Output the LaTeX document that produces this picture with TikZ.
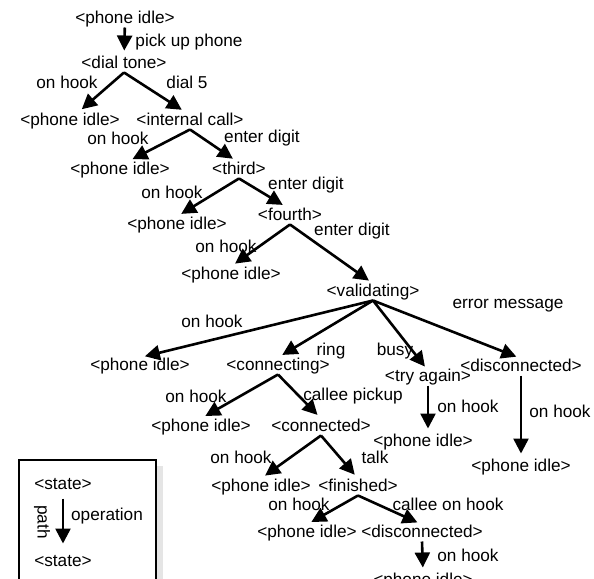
\documentclass[tikz,border=0pt]{standalone}
\usepackage{fontspec}
\setmainfont{Liberation Sans}
\usetikzlibrary{arrows.meta}

\begin{document}
\begin{tikzpicture}[
  x=0.5pt, y=-0.5pt,
  state/.style={inner sep=0pt, text height=6.3pt, text depth=1.8pt,
                font=\fontsize{8.6}{10}\selectfont},
  lbl/.style={inner sep=0pt, font=\fontsize{8.6}{10}\selectfont},
  arr/.style={-{Triangle[length=7.5pt, width=7.5pt]}, line width=1.3pt,
              shorten >=2.5pt}
]
\useasboundingbox (0,0) rectangle (594,578);

% legend box
\fill[black!10] (156,466) rectangle (163,600);
\draw[line width=0.6pt, fill=white] (19,460) rectangle (156,600);

% states
\node[state] (idleA)    at (125,19)  {<phone idle>};
\node[state] (dial)     at (124,64)  {<dial tone>};
\node[state] (idleB)    at (70,121)  {<phone idle>};
\node[state] (internal) at (190,121) {<internal call>};
\node[state] (idleC)    at (120,170) {<phone idle>};
\node[state] (third)    at (239,170) {<third>};
\node[state] (idleD)    at (177,225) {<phone idle>};
\node[state] (fourth)   at (290,216) {<fourth>};
\node[state] (idleE)    at (231,275) {<phone idle>};
\node[state] (valid)    at (373,292) {<validating>};
\node[state] (idleF)    at (140,366) {<phone idle>};
\node[state] (conn)     at (278,366) {<connecting>};
\node[state] (tryag)    at (428,377) {<try again>};
\node[state] (disc)     at (521,367) {<disconnected>};
\node[state] (idleG)    at (423,442) {<phone idle>};
\node[state] (idleH)    at (521,467) {<phone idle>};
\node[state] (idleI)    at (201,427) {<phone idle>};
\node[state] (connd)    at (321,427) {<connected>};
\node[state] (idleJ)    at (261,487) {<phone idle>};
\node[state] (fin)      at (358,487) {<finished>};
\node[state] (idleK)    at (307,533) {<phone idle>};
\node[state] (discB)    at (422,533) {<disconnected>};
\node[state] (idleL)    at (423,581) {<phone idle>};

% legend
\node[state] (legA) at (63,485) {<state>};
\node[state] (legB) at (63,562) {<state>};
\node[lbl, rotate=-90] (legPath) at (42,522) {path};
\node[lbl] (legOp) at (107,516) {operation};

% transitions
\draw[arr] (idleA) -- (dial);
\draw[arr] (dial.south) -- ([xshift=4pt]idleB.north);
\draw[arr] (dial.south) -- ([xshift=-2pt]internal.north);
\draw[arr] (internal.south) -- ([xshift=4pt]idleC.north);
\draw[arr] (internal.south) -- ([xshift=-1pt]third.north);
\draw[arr] (third.south) -- (idleD.north);
\draw[arr] (third.south) -- ([xshift=-1.5pt]fourth.north);
\draw[arr] (fourth.south) -- (idleE.north);
\draw[arr] (fourth.south) -- (valid.north);
\draw[arr] (valid.south) -- (idleF.north);
\draw[arr] (valid.south) -- (conn.north);
\draw[arr] (valid.south) -- ([yshift=-1pt]tryag.north);
\draw[arr] (valid.south) -- (disc.north);
\draw[arr] (tryag.south) -- ([xshift=2.5pt]idleG.north);
\draw[arr] (disc.south) -- (idleH.north);
\draw[arr] (conn.south) -- (idleI.north);
\draw[arr] (conn.south) -- (connd.north);
\draw[arr] (connd.south) -- (idleJ.north);
\draw[arr] (connd.south) -- (fin.north);
\draw[arr] (fin.south) -- (idleK.north);
\draw[arr] (fin.south) -- (discB.north);
\draw[arr] (discB.south) -- (idleL.north);
\draw[arr, shorten <=2.5pt, shorten >=5pt] (legA) -- (legB);

% operation labels
\node[lbl] (lPick)  at (189,42)  {pick up phone};
\node[lbl] (lHk1)   at (67,82)   {on hook};
\node[lbl] (lDial)  at (187,82)  {dial 5};
\node[lbl] (lHk2)   at (118,138) {on hook};
\node[lbl] (lDig1)  at (262,138) {enter digit};
\node[lbl] (lHk3)   at (172,192) {on hook};
\node[lbl] (lDig2)  at (306,185) {enter digit};
\node[lbl] (lHk4)   at (226,246) {on hook};
\node[lbl] (lDig3)  at (352,231) {enter digit};
\node[lbl] (lHk5)   at (212,321) {on hook};
\node[lbl] (lRing)  at (331,351) {ring};
\node[lbl] (lBusy)  at (395,351) {busy};
\node[lbl] (lErr)   at (508,306) {error message};
\node[lbl] (lHk6)   at (468,406) {on hook};
\node[lbl] (lHk7)   at (560,411) {on hook};
\node[lbl] (lHk8)   at (196,396) {on hook};
\node[lbl] (lPickB) at (353,396) {callee pickup};
\node[lbl] (lHk9)   at (241,457) {on hook};
\node[lbl] (lTalk)  at (375,457) {talk};
\node[lbl] (lHk10)  at (299,504) {on hook};
\node[lbl] (lCallee) at (448,504) {callee on hook};
\node[lbl] (lHk11)  at (468,555) {on hook};
\end{tikzpicture}
\end{document}
